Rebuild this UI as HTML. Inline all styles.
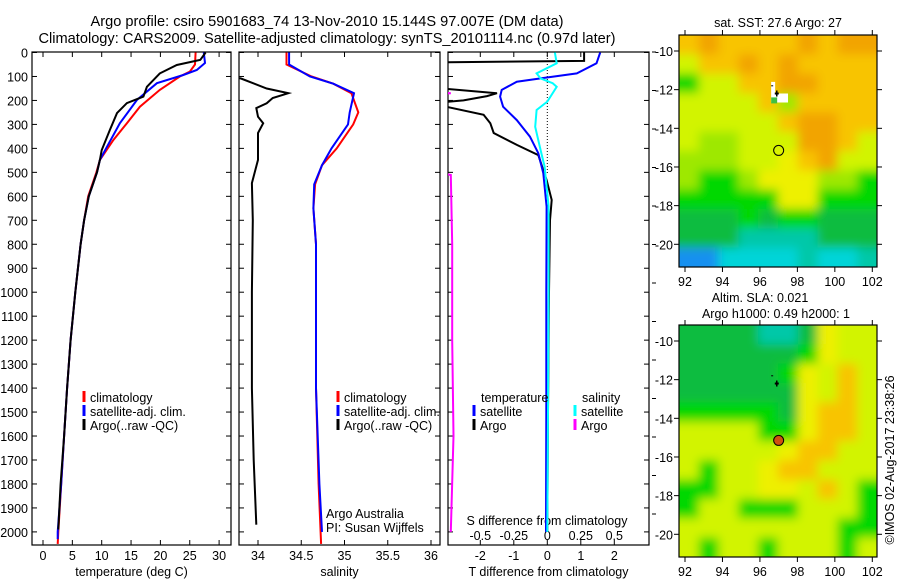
<!DOCTYPE html>
<html><head><meta charset="utf-8"><style>
body{margin:0;background:#fff;width:900px;height:580px;overflow:hidden}
svg{display:block;font-family:"Liberation Sans",sans-serif;font-size:12.5px}
</style></head><body>
<svg id="fig" width="900" height="580" viewBox="0 0 900 580">
<text x="327" y="26" text-anchor="middle" font-size="14.6">Argo profile: csiro 5901683_74 13-Nov-2010 15.144S 97.007E (DM data)</text>
<text x="327" y="43" text-anchor="middle" font-size="14.6">Climatology: CARS2009. Satellite-adjusted climatology: synTS_20101114.nc (0.97d later)</text>
<defs>
<clipPath id="c1"><rect x="32" y="52" width="199" height="493"/></clipPath>
<clipPath id="c2"><rect x="239" y="52" width="201" height="493"/></clipPath>
<clipPath id="c3"><rect x="448" y="52" width="201" height="493"/></clipPath>
<clipPath id="cm1"><rect x="679" y="35" width="198" height="232"/></clipPath>
<clipPath id="cm2"><rect x="679" y="325" width="198" height="232"/></clipPath>
<filter id="blur" x="-10%" y="-10%" width="120%" height="120%"><feGaussianBlur stdDeviation="5"/></filter>
</defs>
<g id="g1"></g>
<g id="g2"></g>
<g id="g3"></g>
<g id="m1"></g>
<g id="m2"></g>
<text x="778" y="27" text-anchor="middle">sat. SST: 27.6 Argo: 27</text>
<text x="760" y="302" text-anchor="middle">Altim. SLA: 0.021</text>
<text x="776" y="318" text-anchor="middle">Argo h1000: 0.49 h2000: 1</text>
<text transform="translate(894,460) rotate(-90)" text-anchor="middle">©IMOS 02-Aug-2017 23:38:26</text>
</svg>
<script>
// ---- data ----
const depthTicks=[0,100,200,300,400,500,600,700,800,900,1000,1100,1200,1300,1400,1500,1600,1700,1800,1900,2000];
const tempTicks=[0,5,10,15,20,25,30];
const salTicks=[34,34.5,35,35.5,36];
const tdiffTicks=[-2,-1,0,1,2];
const sdiffTicks=[-0.5,-0.25,0,0.25,0.5];
const sdiffLabels=["-0.5","-0.25","0","0.25","0.5"];

const tempClimD=[0,50,80,100,156,226,295,365,448,500,600,700,800,1000,1200,1400,1600,1800,2000,2050];
const tempClimV=[26.0,25.9,25.0,23.3,19.9,16.5,14.3,12.0,9.7,9.1,7.7,7.0,6.4,5.5,4.7,4.1,3.6,3.1,2.6,2.5];
const tempSatD=[0,44,73,94,128,198,295,393,448,500,600,700,800,1000,1200,1400,1600,1800,2000,2030];
const tempSatV=[27.4,27.6,26.2,23.9,19.4,16.0,13.1,10.9,9.7,9.2,7.8,7.0,6.4,5.5,4.7,4.1,3.6,3.1,2.5,2.5];
const tempArgoD=[0,31,52,87,143,184,211,253,323,407,448,500,600,700,800,1000,1200,1400,1600,1800,1990];
const tempArgoV=[27.7,26.8,22.8,19.9,17.7,17.1,14.3,12.6,11.4,10.0,9.7,9.2,7.8,7.0,6.4,5.5,4.7,4.1,3.6,3.0,2.6];

const salClimD=[0,50,100,130,170,250,300,400,470,550,650,800,1000,1400,1800,2050];
const salClimV=[34.33,34.33,34.62,34.87,35.08,35.16,35.10,34.91,34.74,34.66,34.64,34.67,34.67,34.67,34.70,34.73];
const salSatD=[0,50,100,130,170,250,300,400,470,550,650,800,1000,1400,1800,2000];
const salSatV=[34.36,34.36,34.60,34.87,35.11,35.06,35.04,34.85,34.74,34.65,34.64,34.67,34.67,34.67,34.71,34.74];
const salArgoD=[0,100,108,150,170,190,212,232,268,295,336,448,545,700,1000,1400,1700,1970];
const salArgoV=[33.0,33.5,33.8,34.10,34.35,34.17,34.10,33.98,34.0,34.06,34.0,34.0,33.93,33.94,33.93,33.93,33.95,33.98];

const dTArgoD=[0,35,42,140,170,182,200,212,260,295,336,386,428,532,615,700,1000,1500,2000];
const dTArgoV=[1.1,1.1,-4,-4,-1.5,-1.8,-2.5,-3.5,-1.9,-1.7,-1.6,-0.9,-0.27,-0.02,0.13,0.08,0.05,0.02,0.0];
const dTSatD=[0,45,87,108,122,156,184,226,282,351,420,504,643,1000,1500,2000];
const dTSatV=[1.58,1.47,0.88,-0.2,-0.91,-1.36,-1.41,-1.32,-0.91,-0.52,-0.27,-0.12,-0.02,-0.03,-0.03,-0.04];
const dSSatD=[0,45,87,108,128,143,205,240,310,407,476,643,1000,1500,2000];
const dSSatV=[0.057,0.07,-0.08,-0.05,0.04,0.07,0,-0.08,-0.09,-0.05,-0.02,0.01,0.01,0.005,0.0];
const dSArgoD=[0,160,170,180,480,511,800,1200,1600,2000];
const dSArgoV=[-1,-1,-0.72,-1,-1,-0.72,-0.71,-0.71,-0.7,-0.72];

const mapLonTicks=[92,94,96,98,100,102];
const mapLatTicks=[-10,-12,-14,-16,-18,-20];
const sstGrid=["oOooooOoOO","yooOoOoooo","GyyooOOooo","yyyyoLoooo","yyyyyoOOoo","yLLyyyOOoy","LLLyyYoOyy","LGGLYYYLLG","GGGGGYYGGG","gggGgGGggg","gggTTTTggg","BBCCCCTCCT"];
const slaGrid=["ggggTTgYyy","ggggggGYyy","gggggGYyoy","ggggggYyoy","GGGGGgYooy","yyyyGGYooy","yyyyyYooyy","yGyyYooyyy","GGyyYYyoyG","GyyGGGyyyG","yyyyyyyyGG","yGyyGyyyGy"];
const argoLon=96.9, argoLat=-12.2, profLon=97.0, profLat=-15.144;

// ---- helpers ----
const NS="http://www.w3.org/2000/svg";
function mk(parent,tag,attrs){const e=document.createElementNS(NS,tag);for(const k in attrs)e.setAttribute(k,attrs[k]);parent.appendChild(e);return e;}
const Y0=52.5,YS=0.2397;
function yD(d){return Y0+d*YS;}
function line(g,x1,y1,x2,y2,c,w){return mk(g,"line",{x1:x1,y1:y1,x2:x2,y2:y2,stroke:c||"#000","stroke-width":w||1});}
function txt(g,x,y,s,anchor){const t=mk(g,"text",{x:x,y:y,"text-anchor":anchor||"start"});t.textContent=s;return t;}

function panel(g,x0,x1,xf,ticks,tickLabels,title,clip,leftLabels){
  const fr=mk(g,"rect",{x:x0,y:52,width:x1-x0,height:493,fill:"none",stroke:"#000","stroke-width":1.2});
  
  depthTicks.forEach(d=>{const y=yD(d);line(g,x0,y,x0+5,y);line(g,x1-5,y,x1,y);
    if(leftLabels){const t=txt(g,28,y+5,String(d),"end");}});
  ticks.forEach((v,i)=>{const x=xf(v);line(g,x,545,x,540);line(g,x,52,x,57);
    if(tickLabels){const t=txt(g,x,560,tickLabels[i],"middle");}});
  if(title){const t=txt(g,(x0+x1)/2,576,title,"middle");}
}
function series(g,D,V,xf,color,clip,name){
  const pts=D.map((d,i)=>xf(V[i]).toFixed(1)+","+yD(d).toFixed(1)).join(" ");
  const p=mk(g,"polyline",{points:pts,fill:"none",stroke:color,"stroke-width":2,"clip-path":"url(#"+clip+")"});
  
}
function legend(g,x,y,color,label,name){
  if(color){line(g,x,y-6,x,y+5,color,3);}
  const t=txt(g,x+6,y+5,label);
}

// ---- panel 1 ----
const g1=document.getElementById("g1");
const xT=v=>43+v*5.87;
panel(g1,32,231,xT,tempTicks,tempTicks.map(String),"temperature (deg C)","c1",true);
series(g1,tempClimD,tempClimV,xT,"#f00","c1","temp-climatology-line");
series(g1,tempSatD,tempSatV,xT,"#00f","c1","temp-satellite-line");
series(g1,tempArgoD,tempArgoV,xT,"#000","c1","temp-argo-line");
legend(g1,84,397,"#f00","climatology","legend-climatology");
legend(g1,84,411,"#00f","satellite-adj. clim.","legend-satellite");
legend(g1,84,425,"#000","Argo(..raw -QC)","legend-argo");

// ---- panel 2 ----
const g2=document.getElementById("g2");
const xS=v=>258+(v-34)*86.5;
panel(g2,239,440,xS,salTicks,salTicks.map(String),"salinity","c2",false);
series(g2,salClimD,salClimV,xS,"#f00","c2","sal-climatology-line");
series(g2,salSatD,salSatV,xS,"#00f","c2","sal-satellite-line");
series(g2,salArgoD,salArgoV,xS,"#000","c2","sal-argo-line");
legend(g2,338,397,"#f00","climatology","legend-climatology");
legend(g2,338,411,"#00f","satellite-adj. clim.","legend-satellite");
legend(g2,338,425,"#000","Argo(..raw -QC)","legend-argo");
{let t=txt(g2,326,518,"Argo Australia");
 t=txt(g2,326,532,"PI: Susan Wijffels");}

// ---- panel 3 ----
const g3=document.getElementById("g3");
const xdT=v=>547.3+v*33.5, xdS=v=>547.3+v*134;
panel(g3,448,649,xdT,tdiffTicks,tdiffTicks.map(String),"T difference from climatology","c3",false);
sdiffTicks.forEach((v,i)=>{const x=xdS(v);const t=txt(g3,x,540,sdiffLabels[i],"middle");});
{const t=txt(g3,547,525,"S difference from climatology","middle");}
mk(g3,"line",{x1:547.3,y1:52,x2:547.3,y2:175,stroke:"#000","stroke-width":1,"stroke-dasharray":"1,2"});
for(let y=52;y<=545;y+=38.5){line(g3,652,y,656,y);}
series(g3,dSArgoD,dSArgoV,xdS,"#f0f","c3","s-diff-argo-line");
series(g3,dTArgoD,dTArgoV,xdT,"#000","c3","t-diff-argo-line");
series(g3,dTSatD,dTSatV,xdT,"#00f","c3","t-diff-satellite-line");
series(g3,dSSatD,dSSatV,xdS,"#0ff","c3","s-diff-satellite-line");
{const t=txt(g3,481,402,"temperature");
 const s=txt(g3,582,402,"salinity");}
legend(g3,474,411,"#00f","satellite","legend-t-satellite");
legend(g3,474,425,"#000","Argo","legend-t-argo");
legend(g3,575,411,"#0ff","satellite","legend-s-satellite");
legend(g3,575,425,"#f0f","Argo","legend-s-argo");

// ---- maps ----
const COL={O:"#f2a400",o:"#f8c400",Y:"#eef000",y:"#d2f400",L:"#9ee800",G:"#00d800",g:"#10bc40",T:"#00c8a8",C:"#00d4d8",B:"#1890f0"};
function map(gid,top,grid,filled,name,clip){
  const g=document.getElementById(gid);
  const x0=679,x1=877,y0=top,y1=top+232;
  const lx=v=>685+(v-92)*18.73, ly=v=>(top+16)+(-10-v)*19.33;
  const cw=(x1-x0)/10,ch=(y1-y0)/12;
  const clipG=mk(g,"g",{"clip-path":"url(#"+clip+")"});
  const blurG=mk(clipG,"g",{filter:"url(#blur)"});
  const nR=grid.length;
  grid.forEach((row,r)=>{for(let c=0;c<row.length;c++){
    let x=x0+c*cw,y=y0+r*ch,w=cw+0.6,h=ch+0.6;
    if(c===0){x-=15;w+=15;} if(c===row.length-1){w+=15;}
    if(r===0){y-=15;h+=15;} if(r===nR-1){h+=15;}
    const cell=mk(blurG,"rect",{x:x.toFixed(1),y:y.toFixed(1),width:w.toFixed(1),height:h.toFixed(1),fill:COL[row[c]]});
    }});
  if(!filled){mk(g,"path",{d:`M${lx(96.6)},${ly(-11.6)}h4v${ly(-12.2)-ly(-11.6)}h${lx(97.5)-lx(96.6)-4}v9h-${lx(97.5)-lx(96.6)}z`,fill:"#fff"});
    mk(g,"rect",{x:lx(96.6),y:ly(-12.4),width:6,height:6,fill:"#40c040"});}
  const fr=mk(g,"rect",{x:x0,y:y0,width:x1-x0,height:y1-y0,fill:"none",stroke:"#000","stroke-width":1.2});
  
  mapLonTicks.forEach(v=>{const x=lx(v);line(g,x,y0,x,y0-5);line(g,x,y1,x,y1+5);
    const t=txt(g,x,y1+19,String(v),"middle");});
  mapLatTicks.forEach(v=>{const y=ly(v);line(g,x0,y,x0-5,y);line(g,x1,y,x1+5,y);
    const t=txt(g,673,y+5,String(v),"end");});
  line(g,lx(argoLon)-2,ly(argoLat),lx(argoLon)+2,ly(argoLat),"#000",2);
  line(g,lx(argoLon),ly(argoLat)-3,lx(argoLon),ly(argoLat)+3,"#000",1.5);
  line(g,lx(96.6),ly(-11.8),lx(96.6)+2,ly(-11.8),"#000",1);
  const c=mk(g,"circle",{cx:lx(profLon),cy:ly(profLat),r:5,fill:filled?"#d05010":"none",stroke:"#000","stroke-width":1});
  
}
map("m1",35,sstGrid,false,"sst-map","cm1");
map("m2",325,slaGrid,true,"sla-map","cm2");
</script>
</body></html>
